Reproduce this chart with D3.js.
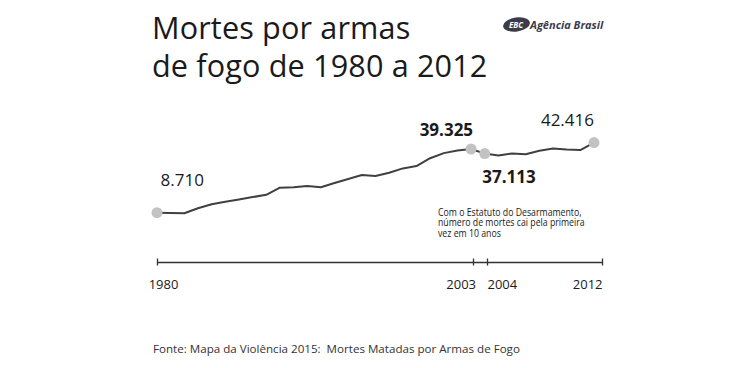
<!DOCTYPE html>
<html><head><meta charset="utf-8">
<script src="https://cdn.jsdelivr.net/npm/d3@7"></script>
<style>
body{margin:0;background:#fff}
svg{display:block}
text{font-family:"Open Sans",sans-serif}
</style>
</head><body>
<svg id="chart" width="750" height="368"></svg>
<script>
const years = [1980,1981,1982,1983,1984,1985,1986,1987,1988,1989,1990,1991,1992,1993,1994,1995,1996,
  1997,1998,1999,2000,2001,2002,2003,2004,2005,2006,2007,2008,2009,2010,2011,2012];
const deaths = [8710,8600,8450,10830,12750,14000,15100,16200,17300,20720,20920,21540,20920,22980,24900,26830,26350,
  27890,30000,31150,34900,37350,38560,39325,37113,36150,37210,36830,38460,39560,39040,38840,42416];
const highlightYears = [1980, 2003, 2004, 2012];
const tickYears = [1980, 2003, 2004, 2012];
const titleLines = ["Mortes por armas", "de fogo de 1980 a 2012"];
const noteLines = ["Com o Estatuto do Desarmamento,", "número de mortes cai pela primeira", "vez em 10 anos"];
const sourceText = "Fonte: Mapa da Violência 2015:  Mortes Matadas por Armas de Fogo";

const data = years.map((y, i) => ({year: y, value: deaths[i]}));
const svg = d3.select("#chart");
svg.append("rect").attr("width", 750).attr("height", 368).attr("fill", "#fff");

const x = d3.scaleLinear().domain([1980, 2012]).range([157, 594]);
const y = d3.scaleLinear().domain([0, 45000]).range([230.8, 137.2]);
const xAxisScale = d3.scaleLinear().domain([1980, 2003, 2004, 2012]).range([157, 473, 487, 602]);

const fmt = d3.formatLocale({decimal: ",", thousands: ".", grouping: [3], currency: ["R$", ""]}).format(",d");

// Title
svg.append("text").attr("x", 152).attr("y", 38.5).attr("font-size", 30.6).attr("letter-spacing", 0.15)
  .attr("fill", "#1a1a1a")
  .selectAll("tspan").data(titleLines).join("tspan")
  .attr("x", 152).attr("dy", (d, i) => i ? 38.5 : 0).text(d => d);

// Logo
const logo = svg.append("g");
logo.append("ellipse").attr("cx", 516.5).attr("cy", 24.5).attr("rx", 13.5).attr("ry", 7)
  .attr("fill", "#3b3b4b").attr("transform", "rotate(-8 516.5 24.5)");
logo.append("text").attr("x", 516).attr("y", 27.5).attr("text-anchor", "middle")
  .attr("font-size", 8).attr("font-weight", 700).attr("font-style", "italic").attr("fill", "#fff").text("EBC");
logo.append("text").attr("x", 530).attr("y", 28.5).attr("font-size", 11).attr("font-weight", 700)
  .attr("font-style", "italic").attr("fill", "#3b3b4b").text("Agência Brasil");

// Line
svg.append("path").datum(data)
  .attr("fill", "none").attr("stroke", "#404040").attr("stroke-width", 2).attr("stroke-linejoin", "round")
  .attr("d", d3.line().x(d => x(d.year)).y(d => y(d.value)));

// Highlight dots
const hl = data.filter(d => highlightYears.includes(d.year));
svg.selectAll("circle.hl").data(hl).join("circle").attr("class", "hl")
  .attr("cx", d => x(d.year)).attr("cy", d => y(d.value)).attr("r", 5.5).attr("fill", "#c2c2c2");

// Value labels
const labelCfg = {
  1980: {dx: 3.5, dy: -26.7, anchor: "start", weight: 400},
  2003: {dx: 2, dy: -13, anchor: "end", weight: 700},
  2004: {dx: -2.5, dy: 29, anchor: "start", weight: 700},
  2012: {dx: 0, dy: -17, anchor: "end", weight: 400}
};
svg.selectAll("text.val").data(hl).join("text").attr("class", "val")
  .attr("x", d => x(d.year) + labelCfg[d.year].dx)
  .attr("y", d => y(d.value) + labelCfg[d.year].dy)
  .attr("text-anchor", d => labelCfg[d.year].anchor)
  .attr("font-weight", d => labelCfg[d.year].weight)
  .attr("font-size", 17).attr("fill", "#1a1a1a")
  .text(d => fmt(d.value));

// Note (narrow text)
svg.append("g").attr("transform", "translate(438,0) scale(0.85,1)")
  .append("text").attr("font-size", 10.3).attr("fill", "#1a1a1a")
  .selectAll("tspan").data(noteLines).join("tspan")
  .attr("x", 0).attr("y", (d, i) => 216 + i * 10.5).text(d => d);

// Axis
const axisG = svg.append("g").attr("transform", "translate(0,262)")
  .call(d3.axisBottom(xAxisScale).tickValues(tickYears).tickFormat(d3.format("d")).tickSize(3.5).tickSizeOuter(0));
axisG.select(".domain").attr("stroke", "#333").attr("stroke-width", 1.5);
axisG.selectAll(".tick line").attr("y1", -3.5).attr("y2", 3.5).attr("stroke", "#333").attr("stroke-width", 1.3);
const tickAnchor = d => d === tickYears[0] ? "middle" : (d === tickYears[1] || d === tickYears[3]) ? "end" : "start";
const tickDx = d => d === tickYears[0] ? 6 : (d === tickYears[1] ? 2.5 : 0);
axisG.selectAll(".tick text").attr("y", 27).attr("dy", 0)
  .attr("text-anchor", tickAnchor).attr("dx", tickDx)
  .attr("font-family", "Open Sans, sans-serif").attr("font-size", 13).attr("fill", "#1a1a1a");

// Source
svg.append("text").attr("x", 153).attr("y", 352.5).attr("font-size", 11.6).attr("fill", "#333")
  .style("white-space", "pre").text(sourceText);
</script>
</body></html>
